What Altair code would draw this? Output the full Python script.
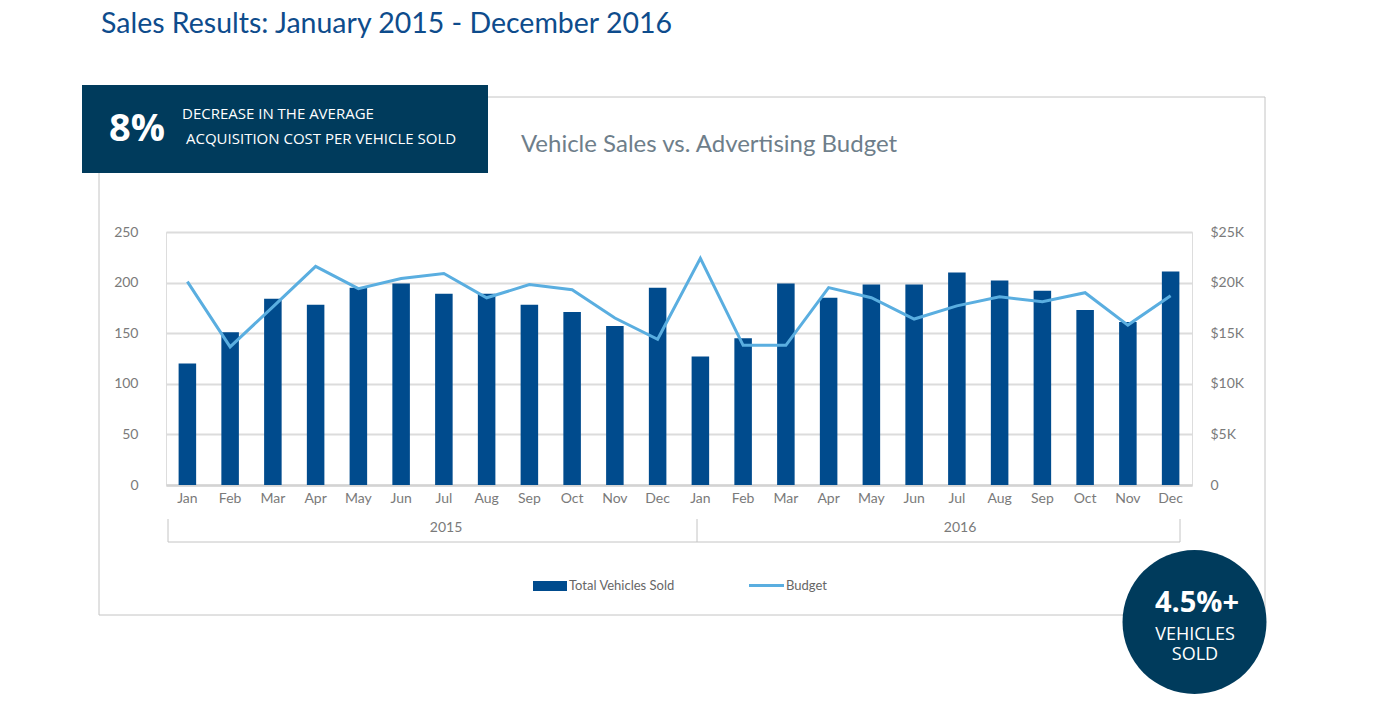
import altair as alt
import pandas as pd

# ---------------- data ----------------
months = ["Jan", "Feb", "Mar", "Apr", "May", "Jun", "Jul", "Aug", "Sep", "Oct", "Nov", "Dec"]
years = ["2015", "2016"]
vehicles_2015 = [120, 151, 184, 178, 195, 199, 189, 189, 178, 171, 157, 195]
vehicles_2016 = [127, 145, 199, 185, 198, 198, 210, 202, 192, 173, 161, 211]
budget_2015 = [20100, 13650, 17600, 21600, 19400, 20400, 20900, 18500, 19800, 19300, 16500, 14400]
budget_2016 = [22400, 13800, 13800, 19500, 18500, 16400, 17700, 18600, 18100, 19000, 15800, 18700]

vehicle_ticks = [0, 50, 100, 150, 200, 250]
budget_ticks = [0, 5000, 10000, 15000, 20000, 25000]

rows = []
for y, vs, bs in [(years[0], vehicles_2015, budget_2015), (years[1], vehicles_2016, budget_2016)]:
    for m, v, b in zip(months, vs, bs):
        rows.append({"key": f"{m} {y}", "month": m, "year": y, "vehicles": v, "budget": b})
df = pd.DataFrame(rows)
keys = list(df["key"])

# ---------------- layout ----------------
OX, OY = 166, 232          # page position of plot origin
W, H = 1026, 253
FONT = "Lato"
BOXFONT = "Open Sans"
BAR = "#004b8d"
LINE = "#5aaee0"
NAVY = "#003b5c"
GRAY = "#7a7a7a"

def X(p):
    return p - OX

def Y(p):
    return p - OY

one = pd.DataFrame({"a": [1]})

x_enc = alt.X(
    "key:N", sort=keys,
    scale=alt.Scale(paddingInner=0.59, paddingOuter=0.295),
    axis=alt.Axis(title=None, labelAngle=0, ticks=False, domainColor="#d3d3d3", domainWidth=2.5,
                  labelExpr="split(datum.label, ' ')[0]", labelFont=FONT, labelFontSize=14,
                  labelColor=GRAY, labelPadding=6),
)

bars = alt.Chart(df).mark_bar(color=BAR).encode(
    x=x_enc,
    y=alt.Y("vehicles:Q", scale=alt.Scale(domain=[0, 250], nice=False),
            axis=alt.Axis(orient="left", title=None, values=vehicle_ticks, grid=True,
                          gridColor="#dcdcdc", gridWidth=2, domain=False, ticks=False,
                          labelFont=FONT, labelFontSize=14, labelColor=GRAY, labelPadding=28)),
)

line = alt.Chart(df).mark_line(color=LINE, strokeWidth=3).encode(
    x=alt.X("key:N", sort=keys),
    y=alt.Y("budget:Q", scale=alt.Scale(domain=[0, 25000], nice=False),
            axis=alt.Axis(orient="right", title=None, values=budget_ticks, grid=False,
                          domain=False, ticks=False,
                          labelExpr="datum.value == 0 ? '0' : '$' + (datum.value / 1000) + 'K'",
                          labelFont=FONT, labelFontSize=14, labelColor=GRAY, labelPadding=18)),
)

def rect(x1, x2, y1, y2, **kw):
    return alt.Chart(one).mark_rect(**kw).encode(
        x=alt.value(X(x1)), x2=alt.value(X(x2)), y=alt.value(Y(y1)), y2=alt.value(Y(y2)))

def rule(x1, x2, y1, y2, **kw):
    return alt.Chart(one).mark_rule(**kw).encode(
        x=alt.value(X(x1)), x2=alt.value(X(x2)), y=alt.value(Y(y1)), y2=alt.value(Y(y2)))

def text(x, y, s, **kw):
    return alt.Chart(one).mark_text(text=s, baseline="alphabetic", **kw).encode(
        x=alt.value(X(x)), y=alt.value(Y(y)))

decor = [
    # outer panel border
    rect(99, 1265, 97, 615, filled=False, stroke="#c4c4c4", strokeWidth=1),
    # page title
    text(101, 33, "Sales Results: January 2015 - December 2016", align="left", font=FONT,
         fontSize=28.5, color="#0e4c8c"),
    # chart title
    text(709, 152, "Vehicle Sales vs. Advertising Budget", align="center", font=FONT,
         fontSize=24, color="#6e7e8a"),
    # 8% box
    rect(82, 488, 85, 173, color=NAVY),
    text(109, 141, "8%", align="left", font=BOXFONT, fontSize=38, fontWeight="bold", color="white"),
    text(182, 119, "DECREASE IN THE AVERAGE", align="left", font=BOXFONT, fontSize=15, color="white"),
    text(186, 144, "ACQUISITION COST PER VEHICLE SOLD", align="left", font=BOXFONT, fontSize=15,
         color="white"),
    # year grouping
    rule(168, 1180, 542, 542, color="#c4c4c4", strokeWidth=1),
    rule(168, 168, 519, 542, color="#c4c4c4", strokeWidth=1),
    rule(697, 697, 519, 542, color="#c4c4c4", strokeWidth=1),
    rule(1180, 1180, 519, 542, color="#c4c4c4", strokeWidth=1),
    text(446, 532, years[0], align="center", font=FONT, fontSize=14, color=GRAY),
    text(960, 532, years[1], align="center", font=FONT, fontSize=14, color=GRAY),
    # legend
    rect(533, 567, 581, 591, color=BAR),
    text(569, 590, "Total Vehicles Sold", align="left", font=FONT, fontSize=13, color="#666666"),
    rule(749, 784, 585.5, 585.5, color=LINE, strokeWidth=3),
    text(786, 590, "Budget", align="left", font=FONT, fontSize=13, color="#666666"),
    # circle badge (symbol diameter = sqrt(size))
    alt.Chart(one).mark_point(filled=True, shape="circle", opacity=1, color=NAVY,
                              size=144 * 144).encode(
        x=alt.value(X(1194.5)), y=alt.value(Y(622))),
    text(1197, 612, "4.5%+", align="center", font=BOXFONT, fontSize=29, fontWeight="bold", color="white"),
    text(1195, 640, "VEHICLES", align="center", font=BOXFONT, fontSize=18, color="white"),
    text(1195, 660, "SOLD", align="center", font=BOXFONT, fontSize=18, color="white"),
]

chart = alt.layer(bars, line, *decor).resolve_scale(y="independent").properties(
    width=W, height=H,
    autosize=alt.AutoSizeParams(type="none"),
    padding={"left": OX - 8, "top": OY - 8, "right": 190, "bottom": 212},
).configure_view(stroke=None).configure(background="white")

chart.save("out.html", embed_options={"renderer": "svg", "actions": False})
